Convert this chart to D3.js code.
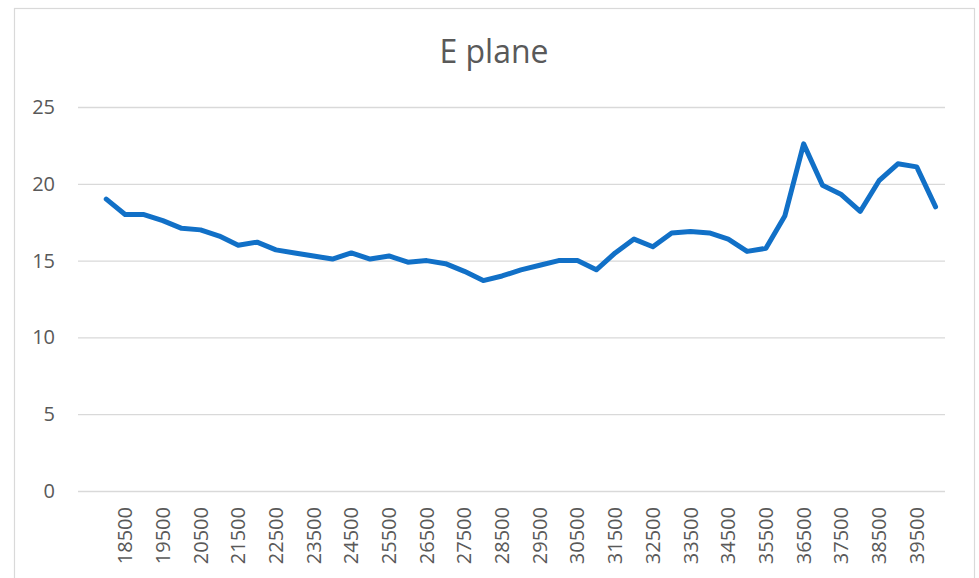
<!DOCTYPE html>
<html>
<head>
<meta charset="utf-8">
<script src="https://cdn.jsdelivr.net/npm/d3@7"></script>
<style>
  html, body { margin: 0; padding: 0; background: #fff; }
  svg { display: block; }
</style>
</head>
<body>
<svg id="chart" width="979" height="578"></svg>
<script>
// ---- data ----
const title = "E plane";
const categories = ["", "18000","18500","19000","19500","20000","20500","21000","21500","22000","22500",
  "23000","23500","24000","24500","25000","25500","26000","26500","27000","27500",
  "28000","28500","29000","29500","30000","30500","31000","31500","32000","32500",
  "33000","33500","34000","34500","35000","35500","36000","36500","37000","37500",
  "38000","38500","39000","39500","40000"];
const values = [null, 19.0,18.0,18.0,17.6,17.1,17.0,16.6,16.0,16.2,15.7,
  15.5,15.3,15.1,15.5,15.1,15.3,14.9,15.0,14.8,14.3,
  13.7,14.0,14.4,14.7,15.0,15.0,14.4,15.5,16.4,15.9,
  16.8,16.9,16.8,16.4,15.6,15.8,17.9,22.6,19.9,19.3,
  18.2,20.2,21.3,21.1,18.5];
const yTicks = [0, 5, 10, 15, 20, 25];

// ---- layout ----
const svg = d3.select("#chart");
const W = 979, H = 578;
const plot = { left: 78, right: 945, top: 107, bottom: 491 };
const font = "'Open Sans', 'Liberation Sans', sans-serif";
const textColor = "#595959";
const gridColor = "#d9d9d9";

// chart border
svg.append("rect")
  .attr("x", 14.5).attr("y", 8.5)
  .attr("width", 960).attr("height", 600)
  .attr("fill", "#fff")
  .attr("stroke", gridColor).attr("stroke-width", 1.2);

const x = d3.scaleBand().domain(categories).range([plot.left, plot.right]).padding(0);
const y = d3.scaleLinear().domain([0, 25]).range([plot.bottom, plot.top]);

// title
svg.append("text")
  .attr("x", 494).attr("y", 63)
  .attr("text-anchor", "middle")
  .attr("font-family", font).attr("font-size", 32)
  .attr("fill", textColor)
  .text(title);

// y axis (gridlines + labels)
const yAxis = d3.axisLeft(y).tickValues(yTicks)
  .tickSize(-(plot.right - plot.left)).tickPadding(23).tickFormat(d3.format("d"));
const gy = svg.append("g").attr("transform", `translate(${plot.left},0)`).call(yAxis);
gy.select(".domain").remove();
gy.selectAll(".tick line").attr("stroke", gridColor).attr("stroke-width", 1.3);
gy.selectAll(".tick text")
  .attr("font-family", font).attr("font-size", 20).attr("fill", textColor);

// x axis labels
const xAxis = d3.axisBottom(x)
  .tickValues(categories.filter((c, i) => i % 2 === 0 && c !== ""))
  .tickSize(0).tickPadding(0);
const gx = svg.append("g").attr("transform", `translate(0,${plot.bottom})`).call(xAxis);
gx.select(".domain").remove();
gx.selectAll(".tick text")
  .attr("font-family", font).attr("font-size", 20).attr("fill", textColor)
  .attr("text-anchor", "end")
  .attr("transform", "rotate(-90)")
  .attr("x", -16).attr("y", 0).attr("dy", "0.35em");

// line
const line = d3.line()
  .defined(d => d.v != null)
  .x(d => x(d.c) + x.bandwidth() / 2)
  .y(d => y(d.v));
svg.append("path")
  .datum(categories.map((c, i) => ({ c, v: values[i] })))
  .attr("fill", "none")
  .attr("stroke", "#1170c7")
  .attr("stroke-width", 5)
  .attr("stroke-linejoin", "round")
  .attr("stroke-linecap", "round")
  .attr("d", line);
</script>
</body>
</html>
